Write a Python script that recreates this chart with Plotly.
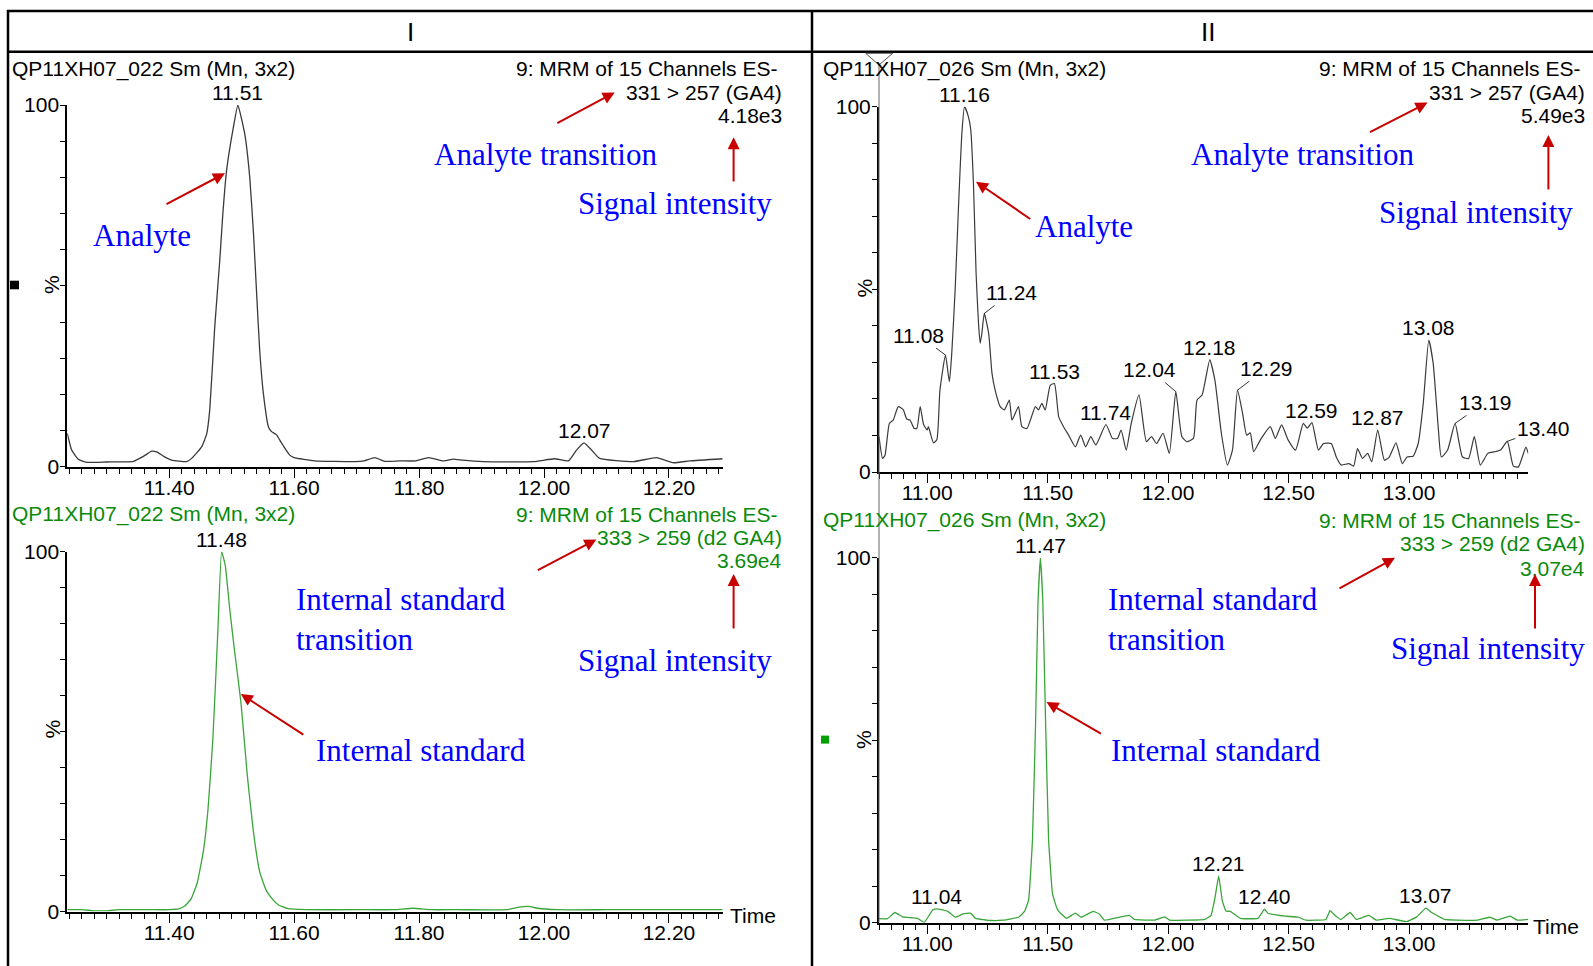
import numpy as np
import plotly.graph_objects as go

W, H = 1593, 966

# ---------------- data (time in min, relative intensity in %) ----------------
# I  - analyte chromatogram (331 > 257)
t_ana_I = [11.237, 11.244, 11.255, 11.268, 11.300, 11.343, 11.360, 11.372, 11.380, 11.392,
           11.404, 11.428, 11.436, 11.452, 11.460, 11.465, 11.473, 11.481, 11.486, 11.492,
           11.503, 11.510, 11.521, 11.529, 11.535, 11.540, 11.545, 11.551, 11.559, 11.564,
           11.572, 11.580, 11.593, 11.600, 11.633, 11.697, 11.712, 11.729, 11.745, 11.769,
           11.795, 11.815, 11.839, 11.855, 11.870, 11.903, 11.983, 12.017, 12.039, 12.052,
           12.064, 12.076, 12.089, 12.143, 12.180, 12.207, 12.233, 12.286]
y_ana_I = [9.2, 4.6, 2.0, 1.2, 1.3, 1.5, 3.0, 4.3, 4.1, 2.8,
           1.85, 1.4, 2.3, 5.5, 9.0, 15.7, 38.7, 57, 70, 82,
           94, 100, 92, 80, 64.5, 48, 32, 20, 11, 9.7,
           8.8, 6.5, 3.2, 2.5, 1.6, 1.4, 1.6, 2.5, 1.5, 1.6,
           1.6, 2.5, 1.6, 2.1, 1.8, 1.4, 1.4, 2.2, 1.6, 4.6,
           6.6, 4.6, 2.3, 1.4, 2.5, 1.1, 1.6, 2.2]

# I  - internal standard chromatogram (333 > 259)
t_is_I = [11.237, 11.26, 11.28, 11.30, 11.32, 11.34, 11.37, 11.40, 11.415, 11.425,
          11.435, 11.445, 11.455, 11.462, 11.47, 11.478, 11.484, 11.49, 11.497, 11.505,
          11.515, 11.525, 11.535, 11.545, 11.555, 11.565, 11.575, 11.59, 11.62, 11.70,
          11.76, 11.79, 11.82, 11.86, 11.94, 11.96, 11.975, 11.99, 12.02, 12.10,
          12.20, 12.286]
y_is_I = [0.5, 0.5, 0.2, 0.2, 0.5, 0.5, 0.5, 0.5, 0.7, 1.5,
          3.5, 8, 17, 28, 48, 78, 100, 96, 84, 72,
          58, 38, 22, 11, 6, 3.5, 1.8, 0.8, 0.5, 0.5,
          0.5, 0.9, 0.5, 0.5, 0.5, 1.2, 1.4, 0.9, 0.5, 0.5,
          0.5, 0.5]

# II - analyte chromatogram (331 > 257)
t_ana_II = [10.800, 10.815, 10.825, 10.843, 10.859, 10.880, 10.901, 10.915, 10.929, 10.945,
            10.957, 10.971, 10.985, 11.000, 11.005, 11.026, 11.040, 11.053, 11.076, 11.092,
            11.102, 11.116, 11.130, 11.144, 11.155, 11.171, 11.181, 11.192, 11.203, 11.213,
            11.220, 11.227, 11.237, 11.255, 11.269, 11.282, 11.303, 11.320, 11.341, 11.352,
            11.379, 11.393, 11.414, 11.449, 11.462, 11.476, 11.490, 11.511, 11.528, 11.546,
            11.566, 11.587, 11.615, 11.637, 11.658, 11.679, 11.700, 11.742, 11.769, 11.790,
            11.805, 11.826, 11.847, 11.879, 11.910, 11.931, 11.952, 11.979, 12.005, 12.032,
            12.057, 12.078, 12.105, 12.120, 12.141, 12.173, 12.194, 12.221, 12.246, 12.267,
            12.288, 12.309, 12.326, 12.341, 12.355, 12.383, 12.424, 12.445, 12.471, 12.498,
            12.529, 12.561, 12.578, 12.597, 12.624, 12.645, 12.677, 12.698, 12.718, 12.750,
            12.770, 12.786, 12.807, 12.828, 12.845, 12.870, 12.898, 12.918, 12.946, 12.972,
            12.992, 13.017, 13.038, 13.059, 13.082, 13.100, 13.122, 13.134, 13.160, 13.191,
            13.222, 13.247, 13.271, 13.296, 13.327, 13.359, 13.380, 13.408, 13.433, 13.454,
            13.485, 13.495]
y_ana_II = [9.7, 3.7, 4.6, 13.3, 14.2, 17.9, 17.0, 14.5, 14.2, 12.0,
            11.9, 17.9, 13.0, 11.5, 12.4, 8.0, 8.8, 22.4, 32.0, 24.7,
            32.5, 49.8, 72.6, 92.7, 100, 97.3, 93.6, 79.0, 54.4, 40.7,
            35.2, 38.0, 43.4, 38.0, 27.0, 22.4, 17.9, 17.0, 19.7, 14.2,
            17.9, 12.4, 11.9, 17.9, 17.0, 18.8, 17.0, 23.8, 24.2, 15.1,
            12.4, 10.1, 6.9, 10.1, 6.9, 9.7, 7.4, 13.0, 9.2, 9.2,
            11.5, 6.0, 13.3, 21.1, 8.3, 9.7, 7.8, 10.6, 5.1, 22.0,
            9.7, 8.3, 9.2, 19.7, 21.1, 30.7, 25.2, 10.6, 1.9, 6.0,
            22.4, 16.1, 10.1, 10.7, 5.6, 8.8, 12.4, 9.2, 12.9, 8.8,
            6.0, 13.3, 12.0, 13.5, 6.0, 7.8, 7.8, 4.1, 1.9, 2.3,
            1.6, 6.4, 3.7, 5.1, 2.8, 11.5, 3.2, 4.1, 8.0, 2.3,
            4.1, 4.3, 7.8, 18.8, 36.1, 29.8, 11.5, 4.1, 6.0, 13.3,
            4.1, 3.7, 9.7, 1.9, 5.1, 5.6, 6.0, 8.4, 1.6, 1.4,
            6.8, 5.1]

# II - internal standard chromatogram (333 > 259)
t_is_II = [10.800, 10.835, 10.866, 10.898, 10.960, 10.988, 11.023, 11.040, 11.048, 11.086,
           11.117, 11.149, 11.180, 11.201, 11.264, 11.316, 11.379, 11.404, 11.421, 11.437,
           11.450, 11.460, 11.470, 11.480, 11.490, 11.504, 11.520, 11.536, 11.546, 11.578,
           11.615, 11.640, 11.689, 11.714, 11.735, 11.839, 11.860, 11.944, 11.986, 12.007,
           12.153, 12.178, 12.195, 12.210, 12.225, 12.240, 12.258, 12.300, 12.373, 12.400,
           12.414, 12.488, 12.540, 12.571, 12.655, 12.672, 12.693, 12.718, 12.755, 12.781,
           12.833, 12.864, 12.917, 12.990, 13.032, 13.070, 13.094, 13.147, 13.199, 13.283,
           13.335, 13.366, 13.419, 13.450, 13.495]
y_is_II = [1.1, 1.1, 2.8, 1.6, 1.2, 0.1, 3.5, 3.8, 3.7, 3.1,
           1.5, 2.4, 2.6, 1.2, 0.6, 0.7, 1.5, 3.1, 6.2, 22.7,
           55, 88, 100, 88, 59, 22.7, 8.0, 4.4, 3.1, 1.2,
           2.6, 1.5, 3.1, 2.4, 0.7, 2.0, 0.9, 0.7, 1.6, 0.7,
           0.9, 2.0, 7.0, 12.8, 6.0, 3.2, 3.1, 1.2, 1.2, 3.7,
           2.6, 1.8, 1.5, 0.7, 0.9, 3.3, 2.0, 0.9, 2.8, 0.9,
           2.0, 0.7, 1.2, 0.3, 1.6, 4.0, 2.8, 0.9, 0.7, 0.7,
           1.5, 0.7, 1.8, 0.7, 0.9]

# labelled peak retention times
peaks_ana_I = [11.51, 12.07]
peaks_is_I = [11.48]
peaks_ana_II = [11.16, 11.08, 11.24, 11.53, 11.74, 12.04, 12.18, 12.29, 12.59, 12.87, 13.08, 13.19, 13.40]
peaks_is_II = [11.04, 11.47, 12.21, 12.40, 13.07]

# axis tick labels
xticks_I = [11.30, 11.40, 11.50, 11.60, 11.70, 11.80, 11.90, 12.00, 12.10, 12.20]
xticks_II = [11.00, 11.25, 11.50, 11.75, 12.00, 12.25, 12.50, 12.75, 13.00, 13.25]
yticks = [0, 10, 20, 30, 40, 50, 60, 70, 80, 90, 100]

# texts
run_I = "QP11XH07_022 Sm (Mn, 3x2)"
run_II = "QP11XH07_026 Sm (Mn, 3x2)"
mrm = "9: MRM of 15 Channels ES-"
trans_ana = "331 > 257 (GA4)"
trans_is = "333 > 259 (d2 GA4)"
intens = {"I_ana": "4.18e3", "I_is": "3.69e4", "II_ana": "5.49e3", "II_is": "3.07e4"}

# ---------------- styling ----------------
SANS = "Liberation Sans, Arial, sans-serif"
SERIF = "Liberation Serif, Times New Roman, serif"
FS = 21
BLACK_LINE = "#3a3a3a"
GREEN_LINE = "#3aa53a"
GREEN_TXT = "#0a8a0a"
BLUE = "#0000ff"
RED = "#c80000"

fig = go.Figure()
fig.add_trace(go.Scatter(x=t_ana_I, y=y_ana_I, mode="lines", xaxis="x", yaxis="y",
                         line=dict(color=BLACK_LINE, width=1.3, shape="spline", smoothing=0.4)))
fig.add_trace(go.Scatter(x=t_is_I, y=y_is_I, mode="lines", xaxis="x2", yaxis="y2",
                         line=dict(color=GREEN_LINE, width=1.3, shape="spline", smoothing=0.4)))
fig.add_trace(go.Scatter(x=t_ana_II, y=y_ana_II, mode="lines", xaxis="x3", yaxis="y3",
                         line=dict(color=BLACK_LINE, width=1.2, shape="spline", smoothing=0.5)))
fig.add_trace(go.Scatter(x=t_is_II, y=y_is_II, mode="lines", xaxis="x4", yaxis="y4",
                         line=dict(color=GREEN_LINE, width=1.3, shape="spline", smoothing=0.3)))


def xdom(a, b):
    return [a / W, b / W]


def ydom(p0, p100):
    return [1 - p0 / H, 1 - p100 / H]


def fmt(v):
    return "%.2f" % v


def xaxis(dom, rng, anchor, ticks, labelled, minor_step, minor_start):
    minor_vals = list(np.round(np.arange(minor_start, rng[1] + 1e-9, minor_step), 3))
    return dict(domain=dom, range=rng, anchor=anchor, showgrid=False, zeroline=False,
                showline=True, linecolor="black", linewidth=2, automargin=False,
                tickmode="array", tickvals=ticks,
                ticktext=[fmt(v) if any(abs(v - l) < 1e-6 for l in labelled) else "" for v in ticks],
                ticks="outside", ticklen=9, tickwidth=1.3, tickcolor="black",
                ticklabelstandoff=-8,
                minor=dict(tickmode="array", tickvals=minor_vals, ticks="outside", ticklen=5,
                           tickwidth=1.1, tickcolor="black"),
                tickfont=dict(family=SANS, size=FS, color="black"), fixedrange=True)


def yaxis(dom, anchor):
    return dict(domain=dom, range=[0, 100], anchor=anchor, showgrid=False, zeroline=False,
                showline=True, linecolor="black", linewidth=2, automargin=False,
                tickmode="array", tickvals=yticks,
                ticktext=[str(v) if v in (0, 100) else "" for v in yticks],
                ticks="outside", ticklen=5, tickwidth=1.2, tickcolor="black",
                ticklabelstandoff=-3,
                tickfont=dict(family=SANS, size=FS, color="black"), fixedrange=True)


lab_I = [11.40, 11.60, 11.80, 12.00, 12.20]
lab_II = [11.00, 11.50, 12.00, 12.50, 13.00]
rng_I = [11.237, 12.286]
rng_II = [10.80, 13.495]

fig.update_layout(
    width=W, height=H, margin=dict(l=0, r=0, t=0, b=0, pad=0, autoexpand=False),
    paper_bgcolor="white", plot_bgcolor="rgba(0,0,0,0)", showlegend=False,
    xaxis=xaxis(xdom(67.3, 722.7), rng_I, "y", xticks_I, lab_I, 0.02, 11.24),
    yaxis=yaxis(ydom(466.7, 105), "x"),
    xaxis2=xaxis(xdom(67.3, 722.7), rng_I, "y2", xticks_I, lab_I, 0.02, 11.24),
    yaxis2=yaxis(ydom(911.5, 551.7), "x2"),
    xaxis3=xaxis(xdom(879, 1528.3), rng_II, "y3", xticks_II, lab_II, 0.05, 10.80),
    yaxis3=yaxis(ydom(472, 106.7), "x3"),
    xaxis4=xaxis(xdom(879, 1528.3), rng_II, "y4", xticks_II, lab_II, 0.05, 10.80),
    yaxis4=yaxis(ydom(922.7, 557.8), "x4"),
)

ann = []


def txt(text, px, py, size=FS, color="black", xanchor="left", family=SANS, angle=0, align="left"):
    ann.append(dict(text=text, x=px / W, y=1 - py / H, xref="paper", yref="paper",
                    xanchor=xanchor, yanchor="middle", showarrow=False, align=align,
                    textangle=angle, font=dict(family=family, size=size, color=color)))


def red_arrow(hx, hy, tx, ty):
    ann.append(dict(text="", x=hx / W, y=1 - hy / H, xref="paper", yref="paper",
                    ax=tx - hx, ay=ty - hy, axref="pixel", ayref="pixel", showarrow=True,
                    arrowhead=2, arrowsize=1.2, arrowwidth=2, arrowcolor=RED,
                    standoff=0, startstandoff=0))


def peak_pos(ts, ys, t0):
    ts = np.asarray(ts)
    ys = np.asarray(ys)
    m = np.abs(ts - t0) <= 0.012
    if m.any():
        i = np.argmax(np.where(m, ys, -1))
        return ts[i], ys[i]
    return t0, float(np.interp(t0, ts, ys))


def peak_labels(ts, ys, peaks, xr, yr, leaders=None):
    leaders = leaders or {}
    for p in peaks:
        pt, py = peak_pos(ts, ys, p)
        if p in leaders:
            dx, dy = leaders[p]
            ann.append(dict(text=fmt(p), x=pt, y=py, xref=xr, yref=yr, showarrow=True,
                            ax=dx, ay=dy, arrowhead=0, arrowwidth=0.8, arrowcolor="black",
                            standoff=0, font=dict(family=SANS, size=FS, color="black")))
        else:
            ann.append(dict(text=fmt(p), x=pt, y=py, xref=xr, yref=yr, showarrow=False,
                            xanchor="center", yanchor="bottom", yshift=-1,
                            font=dict(family=SANS, size=FS, color="black")))


peak_labels(t_ana_I, y_ana_I, peaks_ana_I, "x", "y")
peak_labels(t_is_I, y_is_I, peaks_is_I, "x2", "y2")
peak_labels(t_ana_II, y_ana_II, peaks_ana_II, "x3", "y3",
            leaders={11.08: (-27, -20), 11.24: (27, -21), 12.04: (-26, -22), 12.29: (29, -22),
                     13.19: (30, -21), 13.40: (36, -13)})
peak_labels(t_is_II, y_is_II, peaks_is_II, "x4", "y4")

# header
txt("I", 410.5, 31.5, size=26, xanchor="center")
txt("II", 1208, 31.5, size=26, xanchor="center")

# panel I top
txt(run_I, 10, 69)
txt(mrm, 778.5, 69, xanchor="right")
txt(trans_ana, 783.5, 92.5, xanchor="right")
txt(intens["I_ana"], 783.5, 115.8, xanchor="right")
txt("%", 52, 285, angle=-90, xanchor="center")
# panel I bottom
txt(run_I, 10, 514, color=GREEN_TXT)
txt(mrm, 778.5, 514, color=GREEN_TXT, xanchor="right")
txt(trans_is, 783.5, 537.5, color=GREEN_TXT, xanchor="right")
txt(intens["I_is"], 783.5, 560.8, color=GREEN_TXT, xanchor="right")
txt("%", 52, 729.5, angle=-90, xanchor="center")
txt("Time", 728, 915)
# panel II top
txt(run_II, 821, 69)
txt(mrm, 1582, 69, xanchor="right")
txt(trans_ana, 1587, 92.5, xanchor="right")
txt(intens["II_ana"], 1587, 115.8, xanchor="right")
txt("%", 863.5, 288, angle=-90, xanchor="center")
# panel II bottom
txt(run_II, 821, 520, color=GREEN_TXT)
txt(mrm, 1582, 520, color=GREEN_TXT, xanchor="right")
txt(trans_is, 1587, 543.6, color=GREEN_TXT, xanchor="right")
txt(intens["II_is"], 1587, 568, color=GREEN_TXT, xanchor="right")
txt("%", 863.5, 739.6, angle=-90, xanchor="center")
txt("Time", 1531, 926)

# blue explanatory labels
txt("Analyte", 142, 236, size=31, color=BLUE, xanchor="center", family=SERIF)
txt("Analyte transition", 545.6, 154.4, size=31, color=BLUE, xanchor="center", family=SERIF)
txt("Signal intensity", 674.6, 203.2, size=31, color=BLUE, xanchor="center", family=SERIF)
txt("Internal standard<br>transition", 294, 619.7, size=31, color=BLUE, xanchor="left", family=SERIF)
txt("Signal intensity", 674.6, 660.4, size=31, color=BLUE, xanchor="center", family=SERIF)
txt("Internal standard", 420.6, 750.8, size=31, color=BLUE, xanchor="center", family=SERIF)
txt("Analyte", 1084, 226.6, size=31, color=BLUE, xanchor="center", family=SERIF)
txt("Analyte transition", 1302.5, 154.4, size=31, color=BLUE, xanchor="center", family=SERIF)
txt("Signal intensity", 1476.2, 212.3, size=31, color=BLUE, xanchor="center", family=SERIF)
txt("Internal standard<br>transition", 1106, 619.7, size=31, color=BLUE, xanchor="left", family=SERIF)
txt("Signal intensity", 1488.4, 648.2, size=31, color=BLUE, xanchor="center", family=SERIF)
txt("Internal standard", 1216, 750.8, size=31, color=BLUE, xanchor="center", family=SERIF)

# red arrows (head, tail)
red_arrow(614.7, 92.5, 555.8, 124)
red_arrow(733.6, 137.2, 733.6, 182.9)
red_arrow(225, 173.3, 165, 205)
red_arrow(596.4, 539.5, 536.4, 571)
red_arrow(733.6, 574, 733.6, 630)
red_arrow(240.8, 694, 304.8, 735.6)
red_arrow(1427.5, 102.6, 1368.5, 133)
red_arrow(1548.4, 135, 1548.4, 191)
red_arrow(976, 181.7, 1031.7, 220)
red_arrow(1395, 557.8, 1338, 589.3)
red_arrow(1535, 574, 1535, 630)
red_arrow(1046.5, 702, 1102.4, 734.5)

fig.update_layout(annotations=ann)

# frame and decorations
shapes = []


def pline(x0, y0, x1, y1, color="black", width=2.5):
    shapes.append(dict(type="line", xref="paper", yref="paper", x0=x0 / W, y0=1 - y0 / H,
                       x1=x1 / W, y1=1 - y1 / H, line=dict(color=color, width=width)))


pline(7, 11, W, 11)
pline(7, 51.7, W, 51.7)
pline(8, 10, 8, H)
pline(812, 10, 812, H)
# cursor line and marker in panel II
pline(879, 65, 879, 922.7, color="#666666", width=1)
shapes.append(dict(type="path", xref="paper", yref="paper",
                   path="M %f,%f L %f,%f L %f,%f Z" % (865.7 / W, 1 - 53.3 / H, 892.7 / W, 1 - 53.3 / H,
                                                       879 / W, 1 - 65 / H),
                   line=dict(color="#555555", width=1), fillcolor="rgba(0,0,0,0)"))
# small channel markers
shapes.append(dict(type="rect", xref="paper", yref="paper", x0=10 / W, x1=19 / W,
                   y0=1 - 289.3 / H, y1=1 - 280.7 / H, fillcolor="black", line=dict(width=0)))
shapes.append(dict(type="rect", xref="paper", yref="paper", x0=821 / W, x1=829 / W,
                   y0=1 - 743.6 / H, y1=1 - 735.6 / H, fillcolor="#00a000", line=dict(width=0)))
fig.update_layout(shapes=shapes)

fig.write_html("out.html", config={"displayModeBar": False},
               post_script="document.documentElement.style.margin='0';"
                           "document.body.style.margin='0';document.body.style.padding='0';"
                           "document.body.style.overflow='hidden';")
